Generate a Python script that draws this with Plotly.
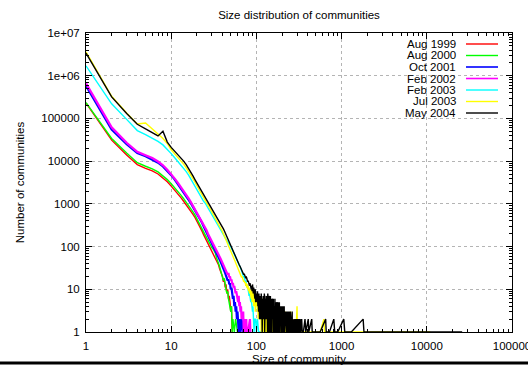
import plotly.graph_objects as go

# ---------------- data ----------------
series_names = ["Aug 1999", "Aug 2000", "Oct 2001", "Feb 2002", "Feb 2003", "Jul 2003", "May 2004"]
series_colors = ["#ff0000", "#00ff00", "#0000ff", "#ff00ff", "#00ffff", "#ffff00", "#000000"]
series_widths = [1.4, 1.4, 2.2, 2.2, 1.4, 1.4, 1.4]

# counts for community sizes 1, 2, 3, ... (contiguous head)
head_aug1999 = [230000, 31000, 14000, 8300, 6800, 5900, 5000, 4100, 3300, 2600,
                2100, 1700, 1400, 1150, 960, 800, 680, 570, 480, 400,
                330, 270, 230, 190, 160, 135, 115, 100, 88, 78,
                70, 60, 54, 47, 40, 37, 30, 26, 22, 20,
                15, 17, 11, 13, 8, 10, 6, 7, 5, 3,
                4, 1]
tail_aug1999 = []

head_aug2000 = [235000, 34000, 15500, 9200, 7600, 6600, 5600, 4600, 3700, 2950,
                2400, 1950, 1600, 1320, 1100, 920, 780, 650, 550, 460,
                380, 310, 260, 220, 185, 160, 140, 120, 105, 95,
                88, 80, 70, 55, 48, 40, 34, 28, 22, 19,
                16, 18, 12, 10, 8, 9, 6, 5, 4, 3,
                4, 1]
tail_aug2000 = [(53, 2), (55, 1), (57, 2), (60, 1)]

head_oct2001 = [580000, 55000, 25000, 15500, 13000, 11000, 9200, 7500, 5900, 4700,
                3700, 2900, 2350, 1900, 1550, 1270, 1040, 850, 710, 600,
                500, 420, 360, 300, 255, 215, 185, 160, 135, 118,
                102, 90, 80, 70, 62, 55, 49, 44, 39, 35,
                31, 27, 24, 21, 19, 16, 17, 13, 14, 10,
                11, 8, 6, 7, 4, 5, 3, 4, 2, 3]
tail_oct2001 = [(62, 1), (63, 2), (65, 1), (67, 2), (70, 1), (73, 1)]

head_feb2002 = [660000, 62000, 27000, 16500, 13800, 11800, 9800, 8000, 6300, 5000,
                3900, 3100, 2500, 2000, 1650, 1350, 1100, 900, 760, 640,
                540, 460, 390, 330, 280, 240, 200, 175, 150, 130,
                115, 100, 90, 80, 72, 65, 58, 52, 46, 42,
                38, 34, 31, 28, 25, 22, 24, 19, 20, 16,
                17, 13, 14, 11, 12, 10, 8, 9, 7, 6,
                5, 7, 4, 5, 3, 4, 2, 3, 2, 3]
tail_feb2002 = [(71, 1), (72, 2), (74, 1), (76, 2), (77, 1), (80, 1), (84, 2), (85, 1)]

head_feb2003 = [1700000, 220000, 95000, 52000, 42000, 35000, 29000, 24000, 19000, 15000,
                12000, 9800, 8200, 6900, 5700, 4700, 3800, 3100, 2550, 2100,
                1750, 1500, 1300, 1150, 1050, 920, 810, 720, 640, 580,
                520, 460, 410, 365, 330, 300, 275, 245, 225, 205,
                190, 175, 160, 150, 140, 130, 125, 118, 110, 100,
                92, 85, 78, 72, 66, 62, 58, 55, 50, 47,
                44, 40, 38, 35, 32, 30, 27, 25, 23, 21,
                19, 20, 17, 15, 16, 13, 14, 11, 12, 9,
                10, 7, 8, 6, 7, 5, 6, 4, 5, 3,
                4, 2, 3, 1, 2]
tail_feb2003 = [(98, 2), (100, 1), (103, 2), (106, 1), (110, 1), (115, 1)]

head_jul2003 = [3600000, 330000, 135000, 74000, 78000, 55000, 43000, 34000, 26000, 18500,
                15000, 12500, 10300, 8500, 7000, 5800, 4700, 3900, 3200, 2650,
                2200, 1850, 1600, 1380, 1200, 1050, 930, 820, 730, 650,
                580, 520, 465, 420, 380, 340, 305, 275, 250, 225,
                200, 180, 162, 146, 132, 120, 108, 98, 89, 80,
                73, 66, 60, 55, 50, 46, 42, 39, 36, 33,
                30, 28, 26, 24, 22, 21, 19, 20, 17, 18,
                15, 16, 14, 15, 12, 14, 11, 13, 10, 12,
                9, 11, 8, 10, 7, 9, 6, 10, 5, 8,
                6, 9, 4, 7, 5, 8, 3, 6, 4, 7]
tail_jul2003 = [(101, 4), (102, 7), (103, 3), (104, 6), (105, 2), (106, 5), (107, 7), (108, 3),
                (109, 5), (110, 2), (111, 6), (112, 3), (113, 4), (114, 1), (115, 5), (116, 2),
                (117, 4), (118, 3), (119, 6), (120, 1), (121, 4), (122, 2), (123, 5), (124, 3),
                (125, 1), (126, 4), (127, 2), (128, 3), (129, 5), (130, 1), (131, 3), (132, 2),
                (133, 4), (134, 1), (135, 3), (136, 2), (137, 4), (138, 1), (139, 3), (140, 2),
                (141, 1), (142, 4), (143, 2), (144, 3), (145, 1), (146, 2), (147, 3), (148, 1),
                (149, 2), (150, 4), (151, 1), (152, 2), (153, 3), (154, 1), (155, 2), (156, 1),
                (157, 3), (158, 2), (159, 1), (160, 2), (162, 3), (163, 1), (165, 2), (166, 1),
                (168, 3), (169, 1), (171, 2), (173, 1), (175, 2), (176, 1), (178, 3), (180, 1),
                (182, 2), (184, 1), (187, 2), (189, 1), (192, 2), (194, 1), (197, 3), (199, 1),
                (202, 2), (205, 1), (209, 2), (212, 1), (216, 3), (219, 1), (223, 2), (227, 1),
                (232, 2), (236, 1), (241, 2), (246, 1), (252, 3), (257, 1), (263, 2), (270, 1),
                (278, 2), (285, 1), (292, 1), (300, 4), (303, 1), (312, 1), (330, 1), (360, 1),
                (400, 1), (480, 1), (560, 1), (620, 2), (630, 1), (700, 1), (900, 1), (1400, 1),
                (2500, 1), (6000, 1), (11000, 1)]

head_may2004 = [3400000, 320000, 130000, 73000, 57000, 47000, 39000, 50000, 28000, 21000,
                17000, 14500, 12000, 10000, 8300, 6800, 5500, 4500, 3700, 3100,
                2600, 2250, 1950, 1700, 1500, 1300, 1150, 1000, 900, 800,
                720, 650, 590, 530, 480, 430, 390, 350, 320, 290,
                260, 235, 210, 190, 170, 155, 140, 128, 116, 105,
                96, 88, 80, 74, 68, 62, 58, 54, 50, 46,
                43, 40, 37, 35, 33, 31, 29, 27, 26, 24,
                22, 23, 20, 21, 18, 20, 17, 18, 15, 16,
                14, 15, 12, 14, 11, 13, 10, 12, 9, 13,
                10, 8, 11, 7, 9, 6, 10, 5, 8, 6]
tail_may2004 = [(101, 8), (102, 5), (103, 9), (104, 4), (105, 7), (106, 3), (107, 8), (108, 5),
                (109, 2), (110, 7), (111, 4), (112, 6), (113, 2), (114, 8), (115, 3), (116, 5),
                (117, 1), (118, 6), (119, 4), (120, 7), (121, 2), (122, 5), (123, 3), (124, 8),
                (125, 1), (126, 4), (127, 6), (128, 2), (129, 5), (130, 7),
                (131, 2), (132, 7), (133, 3), (134, 6), (135, 1), (136, 8), (137, 2), (138, 5),
                (139, 1), (140, 7), (141, 3), (142, 6), (143, 1), (144, 5), (145, 2), (146, 7),
                (147, 1), (148, 4), (149, 6), (150, 2), (151, 5), (152, 1), (153, 6), (154, 3),
                (155, 1), (156, 5), (157, 2), (158, 6), (159, 1), (160, 4),
                (161, 2), (162, 5), (163, 1), (164, 4), (165, 6), (166, 1), (167, 3), (168, 5),
                (169, 2), (170, 1), (171, 4), (172, 2), (173, 5), (174, 1), (175, 3), (176, 4),
                (177, 1), (178, 2), (179, 5), (180, 1), (181, 3), (182, 4), (183, 1), (184, 2),
                (185, 3), (186, 5), (187, 1), (188, 2), (189, 4), (190, 1),
                (191, 3), (192, 2), (193, 1), (194, 4), (195, 1), (196, 2), (197, 3), (198, 1),
                (199, 2), (200, 4), (201, 1), (202, 3), (203, 2), (204, 1), (205, 3), (206, 4),
                (207, 1), (208, 2), (209, 3), (210, 1), (211, 2), (212, 4), (213, 1), (214, 2),
                (215, 1), (216, 3), (217, 1), (218, 2), (219, 3), (220, 1), (221, 2), (222, 1),
                (223, 3), (224, 1), (225, 2), (226, 1), (227, 3), (228, 1), (229, 2), (230, 1),
                (231, 3), (232, 1), (233, 2), (235, 1), (236, 3), (237, 1), (239, 2), (240, 1),
                (241, 3), (243, 1), (244, 2), (246, 1), (247, 2), (249, 1), (250, 3),
                (251, 1), (253, 2), (254, 1), (256, 2), (258, 1), (259, 2), (261, 1), (263, 3),
                (264, 1), (266, 2), (268, 1), (270, 2), (272, 1), (274, 2), (276, 1), (278, 2),
                (280, 1), (283, 2), (285, 1), (288, 2), (290, 1), (293, 2), (295, 1), (298, 2),
                (301, 1), (304, 2), (307, 1), (311, 2), (314, 1), (318, 2), (322, 1), (326, 2),
                (330, 1), (340, 2), (345, 1), (356, 1), (372, 2), (380, 1), (406, 2), (412, 1),
                (446, 2), (452, 1), (480, 1), (520, 1), (560, 1), (650, 2), (660, 1), (720, 1),
                (810, 2), (830, 1), (900, 1), (1060, 2), (1090, 1), (1300, 1), (1790, 2),
                (1830, 1), (2000, 1), (3000, 1), (5000, 1), (9000, 1), (26000, 1)]

series_heads = [head_aug1999, head_aug2000, head_oct2001, head_feb2002,
                head_feb2003, head_jul2003, head_may2004]
series_tails = [tail_aug1999, tail_aug2000, tail_oct2001, tail_feb2002,
                tail_feb2003, tail_jul2003, tail_may2004]

x_tickvals = [1, 10, 100, 1000, 10000, 100000]
x_ticktext = ["1", "10", "100", "1000", "10000", "100000"]
y_tickvals = [1, 10, 100, 1000, 10000, 100000, 1000000, 10000000]
y_ticktext = ["1", "10", "100", "1000", "10000", "100000", "1e+06", "1e+07"]

title_text = "Size distribution of communities"
x_title = "Size of community"
y_title = "Number of communities"

# ---------------- figure ----------------
FONT = "Liberation Sans, Arial, Helvetica, sans-serif"
FS = 11.5
W, H = 528, 365
ML, MR, MT, MB = 86, 16, 33, 33
PW, PH = W - ML - MR, H - MT - MB

fig = go.Figure()
for name, color, width, head, tail in zip(series_names, series_colors, series_widths,
                                          series_heads, series_tails):
    xs = list(range(1, len(head) + 1)) + [s for s, _ in tail]
    ys = list(head) + [c for _, c in tail]
    fig.add_trace(go.Scatter(x=xs, y=ys, mode="lines", name=name,
                             line=dict(color=color, width=width),
                             showlegend=False, hoverinfo="skip"))

x_minor = [m * 10 ** d for d in range(0, 5) for m in range(2, 10)]
y_minor = [m * 10 ** d for d in range(0, 7) for m in range(2, 10)]

axis_common = dict(type="log", showline=True, linecolor="black", linewidth=1,
                   mirror="allticks", ticks="inside", ticklen=6, tickcolor="black",
                   tickwidth=1, showgrid=True, gridcolor="#b4b4b4", griddash="dot",
                   gridwidth=1, zeroline=False,
                   tickfont=dict(family=FONT, size=FS, color="black"),
                   tickmode="array", ticklabeloverflow="allow")

fig.update_xaxes(**axis_common, range=[0, 5], tickvals=x_tickvals, ticktext=x_ticktext,
                 minor=dict(tickvals=x_minor, ticks="inside", ticklen=3,
                            tickcolor="black", showgrid=False),
                 ticklabelstandoff=3,
                 title=dict(text=x_title, font=dict(family=FONT, size=FS, color="black"),
                            standoff=6))
fig.update_yaxes(**axis_common, range=[0, 7], tickvals=y_tickvals, ticktext=y_ticktext,
                 minor=dict(tickvals=y_minor, ticks="inside", ticklen=3,
                            tickcolor="black", showgrid=False),
                 ticklabelstandoff=3,
                 title=dict(text=y_title, font=dict(family=FONT, size=FS, color="black"),
                            standoff=14))

# manual gnuplot-style key (top right, inside the plot)
annotations = []
shapes = []
key_top_px, key_step_px = 44, 11.5
for i, (name, color, width) in enumerate(zip(series_names, series_colors, series_widths)):
    ypx = key_top_px + i * key_step_px
    yp = (H - MB - ypx) / PH
    annotations.append(dict(text=name, xref="paper", yref="paper",
                            x=(458 - ML) / PW, y=yp, xanchor="right", yanchor="middle",
                            showarrow=False,
                            font=dict(family=FONT, size=FS, color="black")))
    shapes.append(dict(type="line", xref="paper", yref="paper",
                       x0=(466 - ML) / PW, x1=(498 - ML) / PW, y0=yp, y1=yp,
                       line=dict(color=color, width=min(width, 1.6))))

# dark strip across the bottom edge of the picture
shapes.append(dict(type="rect", xref="paper", yref="paper",
                   x0=-ML / PW, x1=(W - ML) / PW,
                   y0=(H - MB - 361.5) / PH, y1=(H - MB - 364.5) / PH,
                   fillcolor="black", line=dict(width=0), layer="above"))

fig.update_layout(
    width=W, height=H,
    margin=dict(l=ML, r=MR, t=MT, b=MB, autoexpand=False),
    paper_bgcolor="white", plot_bgcolor="white",
    font=dict(family=FONT, size=FS, color="black"),
    title=dict(text=title_text, x=(299 - ML) / PW, xref="paper", xanchor="center",
               y=1 - 15 / H, yref="container", yanchor="middle",
               font=dict(family=FONT, size=FS, color="black")),
    annotations=annotations,
    shapes=shapes,
    showlegend=False,
)

fig.write_html("out.html")
